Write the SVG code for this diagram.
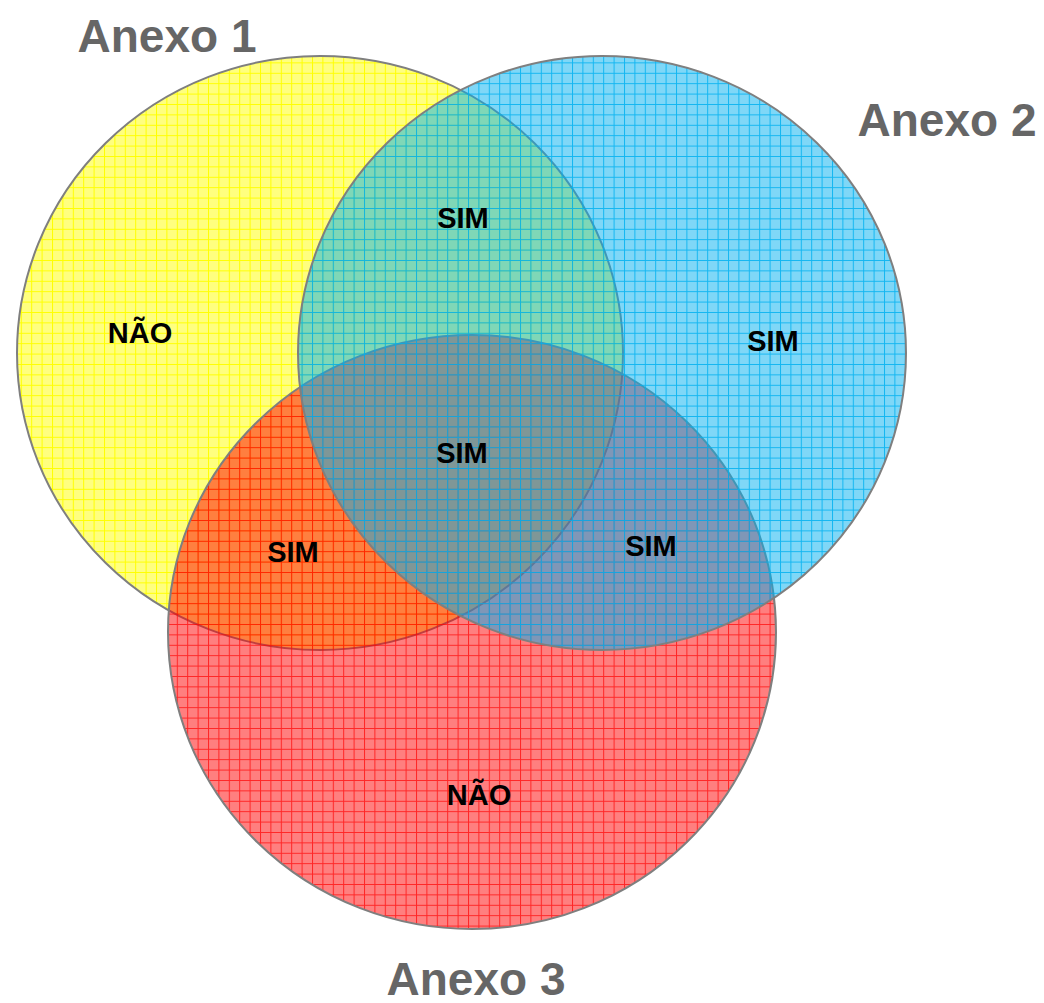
<svg xmlns="http://www.w3.org/2000/svg" width="1044" height="1003" viewBox="0 0 1044 1003">
<style>
.title{font-family:"Liberation Sans",Arial,sans-serif;font-weight:bold;font-size:46px;fill:#666666;text-anchor:middle}
.lbl{font-family:"Liberation Sans",Arial,sans-serif;font-weight:bold;font-size:29px;fill:#000000;text-anchor:middle}
.circ{stroke:#7f7f7f;stroke-width:2}
</style>
<defs>
<pattern id="py" width="10.4" height="10.4" patternUnits="userSpaceOnUse">
<rect width="10.4" height="10.4" fill="#ffff00" fill-opacity="0.5"/>
<path d="M0 0.5H10.4M0.5 0V10.4" stroke="#ffff00" stroke-width="1"/>
</pattern>
<pattern id="pr" width="10.4" height="10.4" patternUnits="userSpaceOnUse">
<rect width="10.4" height="10.4" fill="#ff0000" fill-opacity="0.5"/>
<path d="M0 0.5H10.4M0.5 0V10.4" stroke="#ff0000" stroke-width="1" stroke-opacity="0.7"/>
</pattern>
<pattern id="pb" width="10.4" height="10.4" patternUnits="userSpaceOnUse">
<rect width="10.4" height="10.4" fill="#00b0f0" fill-opacity="0.5"/>
<path d="M0 0.5H10.4M0.5 0V10.4" stroke="#00b0f0" stroke-width="1" stroke-opacity="0.85"/>
</pattern>
</defs>
<g id="anexo1">
<ellipse class="circ" cx="320" cy="353" rx="303" ry="297" fill="url(#py)"/>
</g>
<g id="anexo3">
<ellipse class="circ" cx="472" cy="632" rx="304" ry="297" fill="url(#pr)"/>
</g>
<g id="anexo2">
<ellipse class="circ" cx="602" cy="353" rx="304" ry="297" fill="url(#pb)"/>
</g>
<g id="connectors"></g>
<g id="titles">
<text class="title" x="167" y="52">Anexo 1</text>
<text class="title" x="947" y="136">Anexo 2</text>
<text class="title" x="476" y="995">Anexo 3</text>
</g>
<g id="labels">
<text class="lbl" x="140" y="343">NÃO</text>
<text class="lbl" x="463" y="228">SIM</text>
<text class="lbl" x="773" y="351">SIM</text>
<text class="lbl" x="462" y="463">SIM</text>
<text class="lbl" x="293" y="562">SIM</text>
<text class="lbl" x="651" y="556">SIM</text>
<text class="lbl" x="479" y="805">NÃO</text>
</g>
</svg>
